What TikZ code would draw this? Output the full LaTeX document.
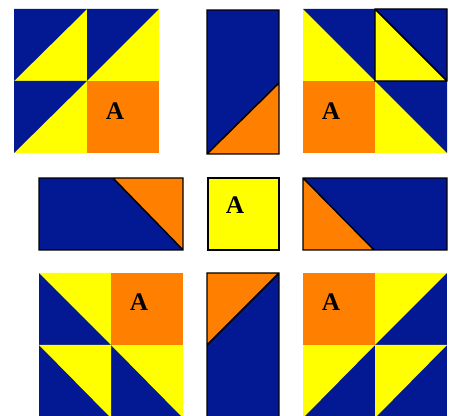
\documentclass[tikz,border=0pt]{standalone}
\usepackage{fontspec}
\setmainfont{Liberation Serif}
\definecolor{qblue}{HTML}{031893}
\definecolor{qyellow}{HTML}{FFFF00}
\definecolor{qorange}{HTML}{FF7F00}
\begin{document}
\begin{tikzpicture}[x=0.75pt,y=-0.75pt,
  blu/.style={fill=qblue},
  yel/.style={fill=qyellow},
  ora/.style={fill=qorange},
  edge/.style={draw=black,line width=1.1pt,line join=miter},
  lbl/.style={font=\fontsize{19}{19}\selectfont\bfseries,inner sep=0pt}]
\useasboundingbox (0,0) rectangle (458,416);
\clip (0,0) rectangle (458,416);
% top left block
\fill[yel] (14,9) rectangle (87,153); \fill[yel] (87,9) rectangle (159,81);
\fill[blu] (14,9) -- (87,9) -- (14,81) -- cycle;
\fill[blu] (87,9) -- (159,9) -- (87,81) -- cycle;
\fill[blu] (14,81) -- (87,81) -- (14,153) -- cycle;
\fill[ora] (87,81) rectangle (159,153);
\node[lbl] (a1) at (115,111) {A};
% top middle strip
\fill[blu] (207,10) rectangle (279,154);
\fill[ora] (207,154) -- (279,154) -- (279,83) -- cycle;
\draw[edge] (207,10) rectangle (279,154) (207,154) -- (279,83);
% top right block
\fill[yel] (303,9) rectangle (447,153);
\fill[blu] (303,9) -- (375,9) -- (375,81) -- cycle;
\fill[blu] (375,9) -- (447,9) -- (447,81) -- cycle;
\fill[blu] (375,81) -- (447,81) -- (447,153) -- cycle;
\fill[ora] (303,81) rectangle (375,153);
\draw[edge] (375,9) rectangle (447,81) (375,9) -- (447,81);
\node[lbl] (a2) at (331,111) {A};
% middle row
\fill[blu] (39,178) rectangle (183,250);
\fill[ora] (113,178) -- (183,178) -- (183,250) -- cycle;
\draw[edge] (39,178) rectangle (183,250) (113,178) -- (183,250);
\fill[yel] (208,178) rectangle (279,250);
\draw[edge] (208,178) rectangle (279,250);
\node[lbl] (a3) at (235,205) {A};
\fill[blu] (303,178) rectangle (447,250);
\fill[ora] (303,178) -- (303,250) -- (374,250) -- cycle;
\draw[edge] (303,178) rectangle (447,250) (303,178) -- (374,250);
% bottom left block
\fill[blu] (39,273) rectangle (183,418);
\fill[yel] (39,273) -- (111,273) -- (111,345) -- cycle;
\fill[yel] (39,345) -- (111,345) -- (111,418) -- cycle;
\fill[yel] (111,345) -- (183,345) -- (183,418) -- cycle;
\fill[ora] (111,273) rectangle (183,345);
\node[lbl] (a4) at (139,302) {A};
% bottom middle strip
\fill[blu] (207,273) rectangle (279,418);
\fill[ora] (207,273) -- (279,273) -- (207,345) -- cycle;
\draw[edge] (207,273) rectangle (279,418) (207,345) -- (279,273);
% bottom right block
\fill[blu] (303,273) rectangle (447,418);
\fill[yel] (375,273) -- (447,273) -- (375,345) -- cycle;
\fill[yel] (303,345) -- (375,345) -- (303,418) -- cycle;
\fill[yel] (375,345) -- (447,345) -- (375,418) -- cycle;
\fill[ora] (303,273) rectangle (375,345);
\node[lbl] (a5) at (331,302) {A};
\end{tikzpicture}
\end{document}
